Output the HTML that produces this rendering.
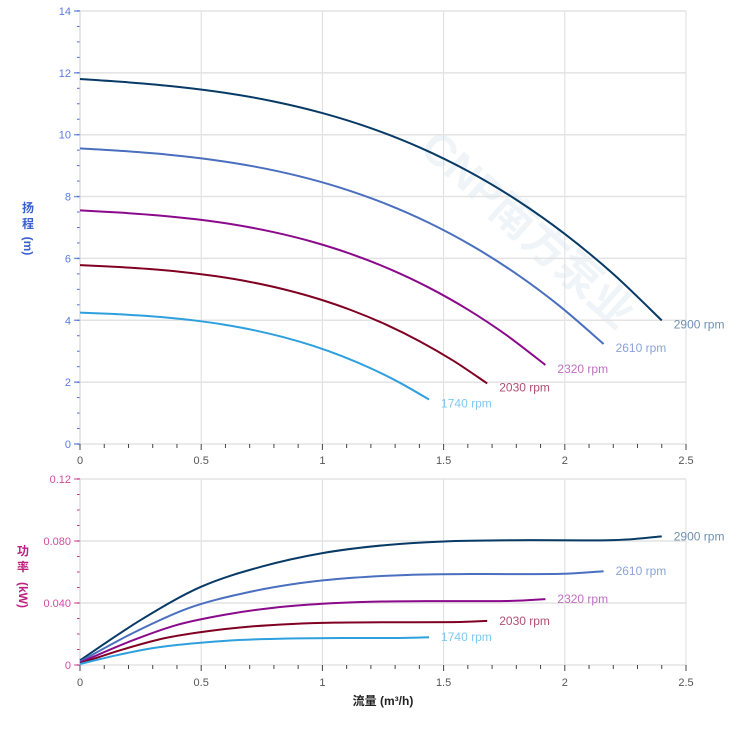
<!DOCTYPE html>
<html><head><meta charset="utf-8"><style>body{margin:0;background:#fff}svg{display:block}text{font-family:"Liberation Sans","Noto Sans CJK SC",sans-serif}</style></head>
<body>
<svg id="s" width="747" height="753" xmlns="http://www.w3.org/2000/svg"></svg>
<script>
const s=document.getElementById('s');let h='';
const X=v=>80+v*242.4, YT=v=>444-v*30.93, YB=v=>665-v*1550;
h+=`<text x="330" y="140" font-size="44" font-weight="bold" fill="#e6edf4" opacity="0.6" transform="rotate(42 360 260)">CNP南方泵业</text>`;
for(let i=0;i<=5;i++){const x=X(i*0.5);const l=[0,0.5,1,1.5,2,2.5][i];h+=`<line x1="${x}" y1="11" x2="${x}" y2="444" stroke="#ddd"/>`;h+=`<text x="${x}" y="464" font-size="11" fill="#555" text-anchor="middle">${l}</text>`;
 h+=`<line x1="${x}" y1="479" x2="${x}" y2="665" stroke="#ddd"/>`;h+=`<text x="${x}" y="686" font-size="11" fill="#555" text-anchor="middle">${l}</text>`;}
for(let i=0;i<=7;i++){const y=YT(i*2);h+=`<line x1="80" y1="${y}" x2="686" y2="${y}" stroke="#e3e3e3" stroke-width="1.5"/>`;h+=`<text x="71" y="${y+4}" font-size="11" fill="#5b7be0" text-anchor="end">${i*2}</text><line x1="74" y1="${y}" x2="80" y2="${y}" stroke="#7d98e8" stroke-width="1.5"/>`;}
for(let i=0;i<=28;i++){const y=YT(i*0.5);h+=`<line x1="77" y1="${y}" x2="80" y2="${y}" stroke="#4a6ad8"/>`;}
const bl=['0','0.040','0.080','0.12'];
for(let i=0;i<=3;i++){const y=YB(i*0.04);h+=`<line x1="80" y1="${y}" x2="686" y2="${y}" stroke="#e3e3e3" stroke-width="1.5"/>`;h+=`<text x="71" y="${y+4}" font-size="11" fill="#d24aa0" text-anchor="end">${bl[i]}</text><line x1="74" y1="${y}" x2="80" y2="${y}" stroke="#e080b8" stroke-width="1.5"/>`;}
for(let i=0;i<=12;i++){const y=YB(i*0.01);h+=`<line x1="77" y1="${y}" x2="80" y2="${y}" stroke="#c03080"/>`;}
for(let i=0;i<=25;i++){const x=X(i*0.1);h+=`<line x1="${x}" y1="444" x2="${x}" y2="${i%5?448:450}" stroke="#444"/><line x1="${x}" y1="665" x2="${x}" y2="${i%5?669:671}" stroke="#444"/>`;}
h+=`<line x1="80" y1="11" x2="80" y2="444" stroke="#ccc"/><line x1="80" y1="479" x2="80" y2="665" stroke="#ccc"/>`;
const cols=['#083a66','#4a6fbf','#8b0a8b','#800024','#2ea0de'],lc=['#7090b0','#8aa4d8','#c070c0','#b05070','#80c8ee'],names=['2900 rpm','2610 rpm','2320 rpm','2030 rpm','1740 rpm'],R=[1,0.9,0.8,0.7,0.6];
const HT=[];for(let i=0;i<=12;i++){const q=i*0.2;HT.push([q,11.8-0.5*q-0.6*Math.pow(q,2.74)]);}
const PT=[[0,0.003],[0.25,0.029],[0.5,0.0505],[0.75,0.0635],[1,0.0722],[1.25,0.0772],[1.5,0.0797],[1.8,0.0805],[2.2,0.0806],[2.4,0.083]];
function path(p){let d=`M${p[0][0]},${p[0][1]}`;for(let i=0;i<p.length-1;i++){const a=p[i-1]||p[i],b=p[i],c=p[i+1],e=p[i+2]||c;d+=` C${b[0]+(c[0]-a[0])/6},${b[1]+(c[1]-a[1])/6} ${c[0]-(e[0]-b[0])/6},${c[1]-(e[1]-b[1])/6} ${c[0]},${c[1]}`;}return d;}
for(let k=0;k<5;k++){const r=R[k];
const hp=HT.map(([q,v])=>[X(q*r),YT(v*r*r)]), pp=PT.map(([q,v])=>[X(q*r),YB(v*r*r*r)]);
h+=`<path d="${path(hp)}" fill="none" stroke="${cols[k]}" stroke-width="2"/><path d="${path(pp)}" fill="none" stroke="${cols[k]}" stroke-width="2"/>`;
const e=hp[hp.length-1],f=pp[pp.length-1];
h+=`<text x="${e[0]+12}" y="${e[1]+8}" font-size="12" fill="${lc[k]}">${names[k]}</text><text x="${f[0]+12}" y="${f[1]+4}" font-size="12" fill="${lc[k]}">${names[k]}</text>`;}
h+=`<text x="28" y="212" font-size="12" font-weight="bold" fill="#3a5fd0" text-anchor="middle">扬</text><text x="28" y="228" font-size="12" font-weight="bold" fill="#3a5fd0" text-anchor="middle">程</text><text transform="translate(24,246) rotate(90)" font-size="12" font-weight="bold" fill="#3a5fd0" text-anchor="middle">(m)</text>`;
h+=`<text x="23" y="555" font-size="12" font-weight="bold" fill="#c02080" text-anchor="middle">功</text><text x="23" y="571" font-size="12" font-weight="bold" fill="#c02080" text-anchor="middle">率</text><text transform="translate(19,595) rotate(90)" font-size="12" font-weight="bold" fill="#c02080" text-anchor="middle">(kW)</text>`;
h+=`<text x="383" y="705" font-size="12" font-weight="bold" fill="#222" text-anchor="middle">流量 (m³/h)</text>`;
s.innerHTML=h;
</script>
</body></html>
